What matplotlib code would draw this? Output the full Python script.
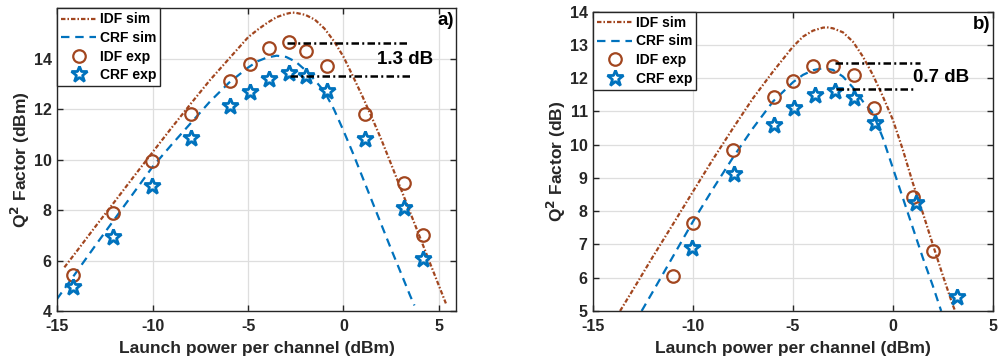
import matplotlib
matplotlib.use("Agg")
import matplotlib.pyplot as plt

plt.rcParams['font.family'] = ['Liberation Sans', 'DejaVu Sans']
plt.rcParams['font.weight'] = 'bold'
plt.rcParams['axes.unicode_minus'] = False

BROWN = '#A2461F'
BLUE = '#0072BD'

# ---------------- panel a) ----------------
a_idf_sim_x = [-14.63, -14, -13, -12, -11, -10, -9, -8, -7, -6, -5, -4.5, -4, -3.5, -3, -2.7,
               -2.5, -2, -1.5, -1, -0.5, 0, 0.5, 1, 1.5, 2, 2.5, 3, 3.5, 4, 4.5, 5, 5.37]
a_idf_sim_y = [5.73, 6.35, 7.35, 8.33, 9.32, 10.3, 11.27, 12.22, 13.15, 14.0, 14.85, 15.15, 15.42,
               15.65, 15.78, 15.83, 15.82, 15.74, 15.55, 15.2, 14.7, 14.08, 13.3, 12.5, 11.65, 10.77,
               9.82, 8.86, 7.9, 6.94, 5.97, 5.01, 4.3]
a_crf_sim_x = [-15.03, -14, -13, -12, -11, -10, -9, -8, -7, -6, -5, -4.5, -4, -3.5, -3, -2.5,
               -2, -1.5, -1, -0.5, 0, 0.5, 1, 1.5, 2, 2.5, 3, 3.5, 3.72]
a_crf_sim_y = [4.46, 5.54, 6.6, 7.64, 8.68, 9.72, 10.6, 11.45, 12.3, 13.05, 13.65, 13.9, 14.05,
               14.12, 14.07, 13.88, 13.55, 13.15, 12.7, 12.0, 11.15, 10.25, 9.3, 8.35, 7.4, 6.45,
               5.53, 4.6, 4.22]
a_exp_x = [-14.2, -12.06, -10.05, -7.98, -5.94, -4.92, -3.91, -2.86, -1.98, -0.84, 1.13, 3.18, 4.18]
a_idf_exp = [5.42, 7.9, 9.96, 11.82, 13.13, 13.78, 14.42, 14.67, 14.32, 13.71, 11.8, 9.07, 7.03]
a_crf_exp = [4.94, 6.92, 8.97, 10.86, 12.11, 12.67, 13.21, 13.43, 13.3, 12.72, 10.83, 8.08, 6.06]
a_gap_x = [(-2.96, 3.41), (-2.82, 3.6)]
a_gap_y = [14.63, 13.33]
a_gap_label = '1.3 dB'

# ---------------- panel b) ----------------
b_idf_sim_x = [-13.66, -13, -12, -11, -10, -9, -8, -7, -6, -5, -4.5, -4, -3.5, -3.3, -3, -2.5,
               -2, -1.5, -1, -0.5, 0, 0.5, 1, 1.5, 2, 2.5, 3, 3.12]
b_idf_sim_y = [5.0, 5.65, 6.65, 7.62, 8.6, 9.57, 10.5, 11.4, 12.2, 12.95, 13.25, 13.43, 13.52,
               13.53, 13.5, 13.38, 13.1, 12.65, 12.1, 11.45, 10.75, 9.85, 8.85, 7.95, 7.0, 6.07,
               5.18, 5.0]
b_crf_sim_x = [-12.58, -12, -11, -10, -9, -8, -7, -6, -5, -4.5, -4, -3.5, -3, -2.5, -2, -1.5,
               -1, -0.5, 0, 0.5, 1, 1.5, 2, 2.42]
b_crf_sim_y = [5.0, 5.6, 6.65, 7.7, 8.68, 9.62, 10.5, 11.3, 11.88, 12.1, 12.24, 12.3, 12.25,
               12.05, 11.72, 11.3, 10.95, 10.2, 9.3, 8.4, 7.5, 6.6, 5.76, 5.0]
b_idf_exp_x = [-11.03, -10.01, -7.99, -5.93, -4.99, -3.98, -3.0, -1.96, -0.94, 1.03, 2.03]
b_idf_exp = [6.05, 7.66, 9.85, 11.42, 11.91, 12.37, 12.38, 12.09, 11.09, 8.44, 6.81]
b_crf_exp_x = [-10.06, -7.95, -5.93, -4.95, -3.88, -2.88, -1.94, -0.88, 1.16, 3.2]
b_crf_exp = [6.88, 9.12, 10.58, 11.11, 11.49, 11.62, 11.41, 10.66, 8.26, 5.43]
b_gap_x = [(-2.92, 1.35), (-2.87, 1.09)]
b_gap_y = [12.45, 11.67]
b_gap_label = '0.7 dB'

legend_labels = ['IDF sim', 'CRF sim', 'IDF exp', 'CRF exp']
x_label = 'Launch power per channel (dBm)'

fig = plt.figure(figsize=(10.0, 3.63), dpi=100)
ax_a = fig.add_axes([0.0573, 0.1433, 0.3987, 0.8339])
ax_b = fig.add_axes([0.5933, 0.1433, 0.3994, 0.8245])


def draw_panel(ax, idf_sx, idf_sy, crf_sx, crf_sy, idf_ex, idf_ey, crf_ex, crf_ey,
               gap_x, gap_y, gap_label, gap_pos, tag, ylabel, xlim, ylim, yticks):
    ax.plot(idf_sx, idf_sy, color=BROWN, ls=(0, (2.0, 0.9, 0.7, 0.9)), lw=1.6,
            label=legend_labels[0])
    ax.plot(crf_sx, crf_sy, color=BLUE, ls=(0, (3.8, 2.6)), lw=1.6, label=legend_labels[1])
    ax.plot(idf_ex, idf_ey, ls='none', marker='o', ms=9, mfc='none', mec=BROWN, mew=1.6,
            label=legend_labels[2])
    ax.plot(crf_ex, crf_ey, ls='none', marker='*', ms=12, mfc='none', mec=BLUE, mew=2.0,
            label=legend_labels[3])
    for (x0, x1), y in zip(gap_x, gap_y):
        ax.plot([x0, x1], [y, y], color='black', ls=(0, (3.0, 1.3, 0.8, 1.3)), lw=1.8)
    ax.text(gap_pos[0], gap_pos[1], gap_label, fontsize=13.5, fontweight='bold',
            ha='center', va='center')
    ax.text(0.995, tag[1], tag[0], transform=ax.transAxes, fontsize=13.5,
            fontweight='bold', ha='right', va='center')

    ax.set_xlim(*xlim)
    ax.set_ylim(*ylim)
    ax.set_xticks([-15, -10, -5, 0, 5])
    ax.set_yticks(yticks)
    ax.grid(True, color='#DEDEDE', lw=0.9)
    ax.set_axisbelow(True)
    ax.tick_params(direction='in', length=4, width=1.0, top=True, right=True,
                   labelsize=11.5, colors='#262626')
    ax.tick_params(axis='x', pad=6)
    ax.tick_params(axis='y', pad=4)
    for lab in ax.get_xticklabels() + ax.get_yticklabels():
        lab.set_fontweight('bold')
    for sp in ax.spines.values():
        sp.set_color('#262626')
        sp.set_linewidth(1.0)
    ax.set_xlabel(x_label, fontsize=12.5, fontweight='bold', color='#262626', labelpad=5)
    ax.set_ylabel(ylabel, fontsize=12.5, fontweight='bold', color='#262626', labelpad=1)

    leg = ax.legend(loc='upper left', borderaxespad=0.0, handlelength=2.5,
                    handletextpad=0.25, labelspacing=0.33, borderpad=0.3, fancybox=False,
                    framealpha=1.0, edgecolor='#262626', prop={'weight': 'bold', 'size': 10})
    leg.get_frame().set_linewidth(1.0)


draw_panel(ax_a, a_idf_sim_x, a_idf_sim_y, a_crf_sim_x, a_crf_sim_y,
           a_exp_x, a_idf_exp, a_exp_x, a_crf_exp,
           a_gap_x, a_gap_y, a_gap_label, (3.22, 13.97), ('a)', 0.959),
           'Q$^{\\mathbf{2}}$ Factor (dBm)', (-15, 5.9), (4, 16), [4, 6, 8, 10, 12, 14])

draw_panel(ax_b, b_idf_sim_x, b_idf_sim_y, b_crf_sim_x, b_crf_sim_y,
           b_idf_exp_x, b_idf_exp, b_crf_exp_x, b_crf_exp,
           b_gap_x, b_gap_y, b_gap_label, (2.41, 12.03), ('b)', 0.956),
           'Q$^{\\mathbf{2}}$ Factor (dB)', (-15, 5), (5, 14), list(range(5, 15)))

fig.savefig('out.png', dpi=100)
